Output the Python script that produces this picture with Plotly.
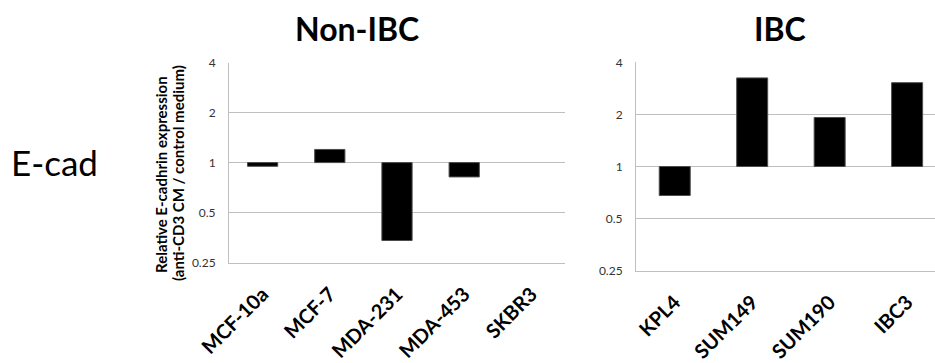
import math
import plotly.graph_objects as go

nonibc_cells = ["MCF-10a", "MCF-7", "MDA-231", "MDA-453", "SKBR3"]
nonibc_vals = [0.95, 1.2, 0.34, 0.82, None]
ibc_cells = ["KPL4", "SUM149", "SUM190", "IBC3"]
ibc_vals = [0.68, 3.25, 1.92, 3.05]
tick_vals = [0.25, 0.5, 1, 2, 4]
tick_text = ["0.25", "0.5", "1", "2", "4"]

W, H = 935, 363
FONT = "Lato"


def rel(vals):
    return [None if v is None else v - 1 for v in vals]


fig = go.Figure()
fig.add_trace(go.Bar(x=nonibc_cells, y=rel(nonibc_vals), base=1, width=0.45,
                     marker=dict(color="black", line=dict(color="#4d4d4d", width=1)),
                     xaxis="x", yaxis="y", showlegend=False))
fig.add_trace(go.Bar(x=ibc_cells, y=rel(ibc_vals), base=1, width=0.4,
                     marker=dict(color="black", line=dict(color="#4d4d4d", width=1)),
                     xaxis="x2", yaxis="y2", showlegend=False))

yrange = [math.log10(0.25), math.log10(4)]
common_y = dict(type="log", range=yrange, tickvals=tick_vals, ticktext=tick_text,
                showgrid=True, gridcolor="#bfbfbf", gridwidth=1,
                showline=True, linecolor="#bfbfbf", linewidth=1,
                ticks="outside", ticklen=10, tickcolor="rgba(0,0,0,0)", zeroline=False,
                automargin=False,
                tickfont=dict(family=FONT, size=12, color="#333"))
common_x = dict(tickangle=-45, showline=True, linecolor="#bfbfbf", linewidth=1,
                showgrid=False, ticks="outside", ticklen=11, tickcolor="rgba(0,0,0,0)",
                automargin=False,
                tickfont=dict(family=FONT, size=20, color="black", weight="bold"))


def ann(text, x, y, size, bold=False, angle=0):
    return dict(text=f"<b>{text}</b>" if bold else text, x=x / W, y=(H - y) / H,
                xref="paper", yref="paper", xanchor="center", yanchor="middle",
                textangle=angle, showarrow=False,
                font=dict(family=FONT, size=size, color="black"))


fig.update_layout(
    width=W, height=H,
    margin=dict(l=0, r=0, t=0, b=0, autoexpand=False),
    paper_bgcolor="white", plot_bgcolor="white",
    xaxis=dict(domain=[229 / W, 565 / W], anchor="y", range=[-0.5, 4.5], **common_x),
    yaxis=dict(domain=[(H - 262.7) / H, (H - 62.5) / H], anchor="x", **common_y),
    xaxis2=dict(domain=[636 / W, 1.0], anchor="y2", range=[-0.5, 3.36], **common_x),
    yaxis2=dict(domain=[(H - 270.7) / H, (H - 62.3) / H], anchor="x2", **common_y),
    annotations=[
        ann("Non-IBC", 357, 28, 32, bold=True),
        ann("IBC", 780, 28, 32, bold=True),
        ann("E-cad", 54, 162, 35),
        ann("Relative E-cadhrin expression", 161, 175, 15, bold=True, angle=-90),
        ann("(anti-CD3 CM / control medium)", 178, 173, 15, bold=True, angle=-90),
    ],
)

fig.write_html("out.html", config={"displayModeBar": False},
               post_script="document.body.style.margin='0';document.body.style.overflow='hidden';")
